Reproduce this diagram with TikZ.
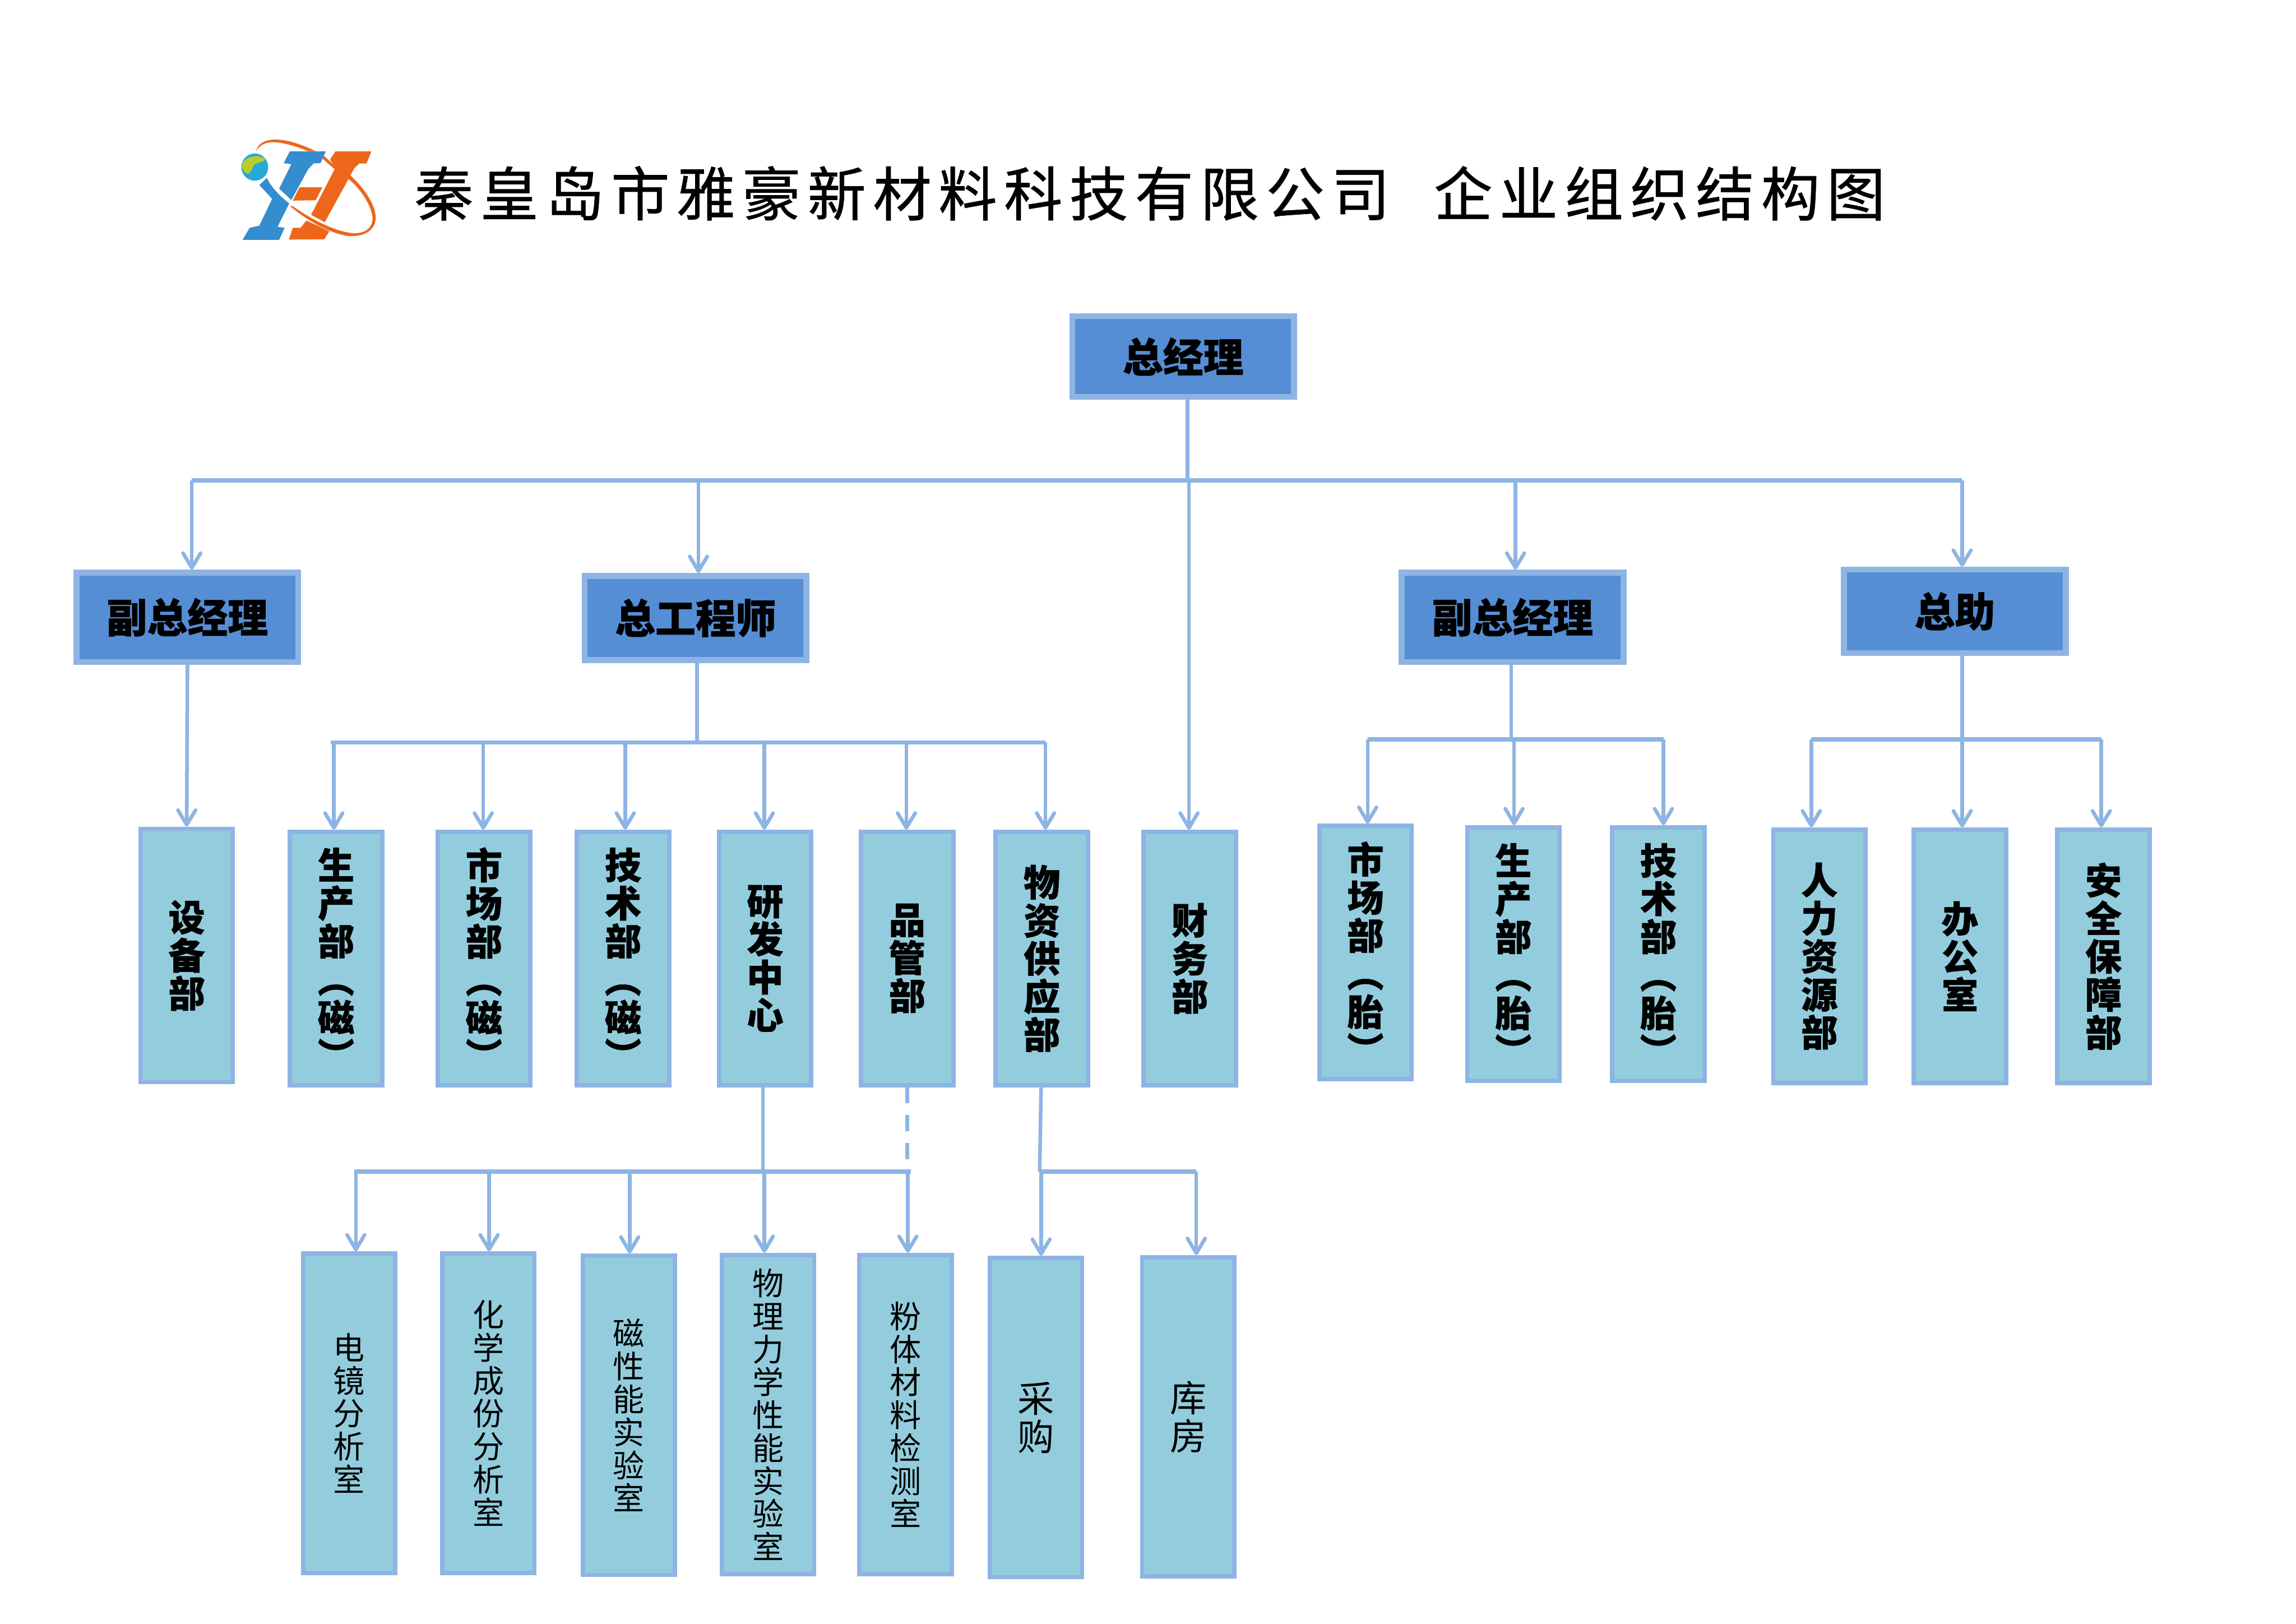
\documentclass[tikz,border=0pt]{standalone}
\usepackage{fontspec}
\usetikzlibrary{arrows.meta}
\setmainfont[BoldFeatures={FakeBold=0.8}]{Noto Sans CJK SC}
\newfontfamily\titlefont[LetterSpace=11.8,FakeBold=0.8]{Noto Sans CJK SC}
\definecolor{edgeblue}{HTML}{8EB4E3}
\definecolor{headfill}{HTML}{558ED5}
\definecolor{deptfill}{HTML}{93CDDD}
\definecolor{logoblue}{HTML}{348DCF}
\definecolor{logoorange}{HTML}{EC671C}
\tikzset{
  headbox/.style={draw=edgeblue,line width=4pt,fill=headfill,inner sep=0pt,minimum width=151.5pt,font=\fontsize{27.5}{28}\selectfont\bfseries},
  deptbox/.style={draw=edgeblue,line width=3pt,fill=deptfill,inner sep=0pt,minimum width=63pt,minimum height=173pt,align=center,font=\fontsize{25}{26}\selectfont\bfseries},
  labbox/.style={draw=edgeblue,line width=3pt,fill=deptfill,inner sep=0pt,minimum width=63pt,minimum height=218pt,align=center,font=\fontsize{21.5}{22.5}\selectfont},
  bigfont/.style={font=\fontsize{25}{26}\selectfont},
  bus/.style={edgeblue,line width=3pt},
  trunk/.style={edgeblue,line width=2.5pt},
  arrowline/.style={edgeblue,line width=2.5pt,-{Straight Barb[length=10pt,width=12pt,round]}}
}
\begin{document}
\begin{tikzpicture}[x=1pt,y=-1pt]
  \useasboundingbox (0,0) rectangle (1568,1109);
  % Logo
  \begin{scope}[shift={(139.7,69.85)},x=0.2079pt,y=-0.0776pt]
    \fill[logoorange] (170,432) .. controls (175,350) and (205,328) .. (235,328) .. controls (280,330) and (330,385) .. (365,430) -- (340,430) .. controls (300,385) and (250,345) .. (215,352) .. controls (195,358) and (178,385) .. (170,432) -- cycle;
    \fill[logoorange] (390,465) -- (432,570) -- (428,590) -- (385,490) -- cycle;
    \fill[logoorange] (478,640) .. controls (530,770) and (565,920) .. (562,1030) .. controls (558,1130) and (525,1178) .. (480,1178) .. controls (420,1170) and (330,1030) .. (280,910) -- (290,915) .. controls (340,1010) and (430,1150) .. (495,1152) .. controls (535,1150) and (552,1090) .. (552,1020) .. controls (548,900) and (510,750) .. (470,670) -- cycle;
    \fill[logoblue] (280,432) -- (398,432) -- (381,535) -- (358,538) -- (340,590) -- (285,860) -- (245,760) -- (285,545) -- (260,535) -- cycle;
    \fill[logoblue] (205,665) -- (180,728) -- (222,850) -- (180,1085) -- (148,1105) -- (125,1210) -- (245,1210) -- (263,1105) -- (240,1095) -- (278,890) .. controls (240,810) and (215,730) .. (205,665) -- cycle;
    \fill[logoorange] (430,432) -- (548,432) -- (532,538) -- (508,538) -- (492,580) -- (395,1055) -- (350,990) -- (430,575) -- (412,505) -- cycle;
    \fill[logoorange] (312,748) -- (387,748) -- (365,862) -- (290,865) -- cycle;
    \fill[logoorange] (290,1105) -- (315,1105) -- (335,1040) -- (410,1135) -- (393,1205) -- (277,1208) -- cycle;
    \fill[logoblue!75!cyan] (165,570) ellipse (44 and 120);
    \fill[yellow!70!green!80!brown] (125,535) .. controls (135,480) and (175,450) .. (200,500) .. controls (190,540) and (170,520) .. (160,560) .. controls (155,610) and (145,640) .. (135,620) .. controls (125,590) and (120,570) .. (125,535) -- cycle;
  \end{scope}
  % Title
  \node[anchor=west,font=\titlefont\fontsize{40}{41}\selectfont,inner sep=0pt] (titleA) at (283,132) {秦皇岛市雅豪新材料科技有限公司};
  \node[anchor=west,font=\titlefont\fontsize{40}{41}\selectfont,inner sep=0pt] (titleB) at (979,132) {企业组织结构图};
  % Head boxes
  \node[headbox,minimum height=55pt] (gm) at (808,243.5) {总经理};
  \node[headbox,minimum height=61pt] (vpL) at (128,421.5) {副总经理};
  \node[headbox,minimum height=57.5pt] (ce) at (475,422) {总工程师};
  \node[headbox,minimum height=61pt] (vpR) at (1033,421.5) {副总经理};
  \node[headbox,minimum height=57pt] (ca) at (1335,417.5) {总助};
  % Departments
  \foreach \nm/\cx/\cy/\txt in {
    equip/127.5/652.5/{设\\备\\部},
    prodM/229.5/654.5/{生\\产\\部\\︵\\磁\\︶},
    markM/330.5/654.5/{市\\场\\部\\︵\\磁\\︶},
    techM/425.5/654.5/{技\\术\\部\\︵\\磁\\︶},
    rnd/522.5/654.5/{研\\发\\中\\心},
    qc/619.5/654.5/{品\\管\\部},
    supply/711.5/654.5/{物\\资\\供\\应\\部},
    fin/812.5/654.5/{财\\务\\部},
    markT/932.5/650.5/{市\\场\\部\\︵\\胎\\︶},
    prodT/1033.5/651.5/{生\\产\\部\\︵\\胎\\︶},
    techT/1132.5/651.5/{技\\术\\部\\︵\\胎\\︶},
    hr/1242.5/653/{人\\力\\资\\源\\部},
    office/1338.5/653/{办\\公\\室},
    safety/1436.5/653/{安\\全\\保\\障\\部}}
    \node[deptbox] (\nm) at (\cx,\cy) {\txt};
  % Labs
  \foreach \nm/\cx/\cy/\txt in {
    sem/238.5/965/{电\\镜\\分\\析\\室},
    chem/333.5/965/{化\\学\\成\\份\\分\\析\\室},
    magn/429.5/966.5/{磁\\性\\能\\实\\验\\室},
    phys/524.5/966/{物\\理\\力\\学\\性\\能\\实\\验\\室},
    powder/618.5/966/{粉\\体\\材\\料\\检\\测\\室}}
    \node[labbox] (\nm) at (\cx,\cy) {\txt};
  \node[labbox,bigfont] (buy) at (707.5,968) {采\\购};
  \node[labbox,bigfont] (store) at (811.5,967.5) {库\\房};
  % Top level
  \coordinate (busTopL) at (131,328);
  \coordinate (busTopM) at (811,328);
  \coordinate (busTopR) at (1340,328);
  \draw[trunk] (busTopM |- gm.south) -- (busTopM);
  \draw[bus] (busTopL) -- (busTopR);
  \foreach \from/\to in {131/vpL,477/ce,812/fin,1035/vpR,1340/ca}
    \draw[arrowline] (\from,328) -- (\from,328 |- \to.north);
  % Left vice manager
  \draw[arrowline] (vpL.south) -- (equip.north);
  % Chief engineer
  \coordinate (busCeL) at (226,507);
  \coordinate (busCeR) at (714,507);
  \draw[trunk] (ce.south -| 476,0) -- (476,507);
  \draw[bus] (busCeL) -- (busCeR);
  \foreach \from/\to in {228/prodM,330/markM,427/techM,522/rnd,619/qc,714/supply}
    \draw[arrowline] (\from,507) -- (\from,507 |- \to.north);
  % Right vice manager
  \coordinate (busVpL) at (934,505);
  \coordinate (busVpR) at (1136,505);
  \draw[trunk] (vpR.south -| 1032,0) -- (1032,505);
  \draw[bus] (busVpL) -- (busVpR);
  \foreach \from/\to in {934/markT,1034/prodT,1136/techT}
    \draw[arrowline] (\from,505) -- (\from,505 |- \to.north);
  % Assistant
  \coordinate (busCaL) at (1237,505);
  \coordinate (busCaR) at (1435,505);
  \draw[trunk] (ca.south -| 1340,0) -- (1340,505);
  \draw[bus] (busCaL) -- (busCaR);
  \foreach \from/\to in {1237/hr,1340/office,1435/safety}
    \draw[arrowline] (\from,505) -- (\from,505 |- \to.north);
  % R&D and quality
  \coordinate (busLabL) at (242,800);
  \coordinate (busLabR) at (622,800);
  \draw[trunk] (rnd.south -| 521,0) -- (521,800);
  \draw[bus] (busLabL) -- (busLabR);
  \draw[trunk,dash pattern=on 11pt off 8pt] (qc.south) -- (qc.south |- busLabR);
  \foreach \from/\to in {243/sem,334/chem,430/magn,522/phys,620/powder}
    \draw[arrowline] (\from,800) -- (\from,800 |- \to.north);
  % Supply
  \coordinate (busBuyL) at (710,800);
  \coordinate (busBuyR) at (817,800);
  \draw[trunk] (supply.south -| 711,0) -- (busBuyL);
  \draw[bus] (busBuyL) -- (busBuyR);
  \foreach \from/\to in {711/buy,817/store}
    \draw[arrowline] (\from,800) -- (\from,800 |- \to.north);
\end{tikzpicture}
\end{document}
